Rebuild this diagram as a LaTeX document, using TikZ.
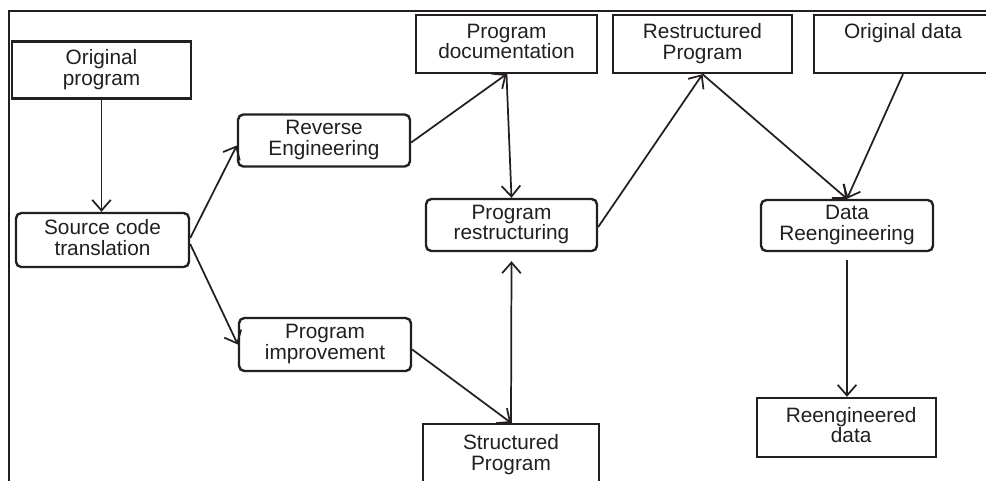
\documentclass[tikz,border=0pt]{standalone}
\usepackage{fontspec}
\setmainfont{Liberation Sans}
\usetikzlibrary{arrows.meta,calc}
\definecolor{ink}{HTML}{231F20}
\begin{document}
\begin{tikzpicture}[x=0.75pt,y=-0.75pt,
  every node/.style={font=\fontsize{15.6}{15.4}\selectfont, text=ink, align=center, inner sep=0pt},
  boxtext/.style={execute at begin node={\rule{0pt}{#1}}, execute at end node={\rule[-4pt]{0pt}{4pt}}},
  boxtext/.default=13pt,
  sqbox/.style={boxtext, draw=ink, line width=1.8pt, rectangle},
  rbox/.style={boxtext, draw=ink, line width=1.8pt, rectangle, rounded corners=4pt},
  arr/.style={draw=ink, line width=1.3pt, -{Straight Barb[length=8pt,width=14pt]}},
  frameline/.style={draw=ink, line width=2.1pt}]
  \clip (0,0) rectangle (986,480);
  \fill[white] (0,0) rectangle (986,480);

  % outer frame (left and top sides only)
  \coordinate (fl) at (9,490);
  \coordinate (fc) at (9,11);
  \coordinate (fr) at (996,11);
  \draw[frameline] (fl) -- (fc) -- (fr);

  % boxes
  \node[sqbox, boxtext=16.5pt, minimum width=134.25pt, minimum height=42.75pt] (orig) at (101.5,70) {Original\\program};
  \node[rbox,  boxtext=14.5pt, minimum width=129.75pt, minimum height=40.5pt]  (src)  at (102.5,240)  {Source code\\translation};
  \node[rbox,  minimum width=129pt,    minimum height=39pt]    (rev)  at (324,140.5)  {Reverse\\Engineering};
  \node[rbox,  minimum width=129pt,    minimum height=39.75pt] (imp)  at (325,344.5)  {Program\\improvement};
  \node[sqbox, minimum width=135.75pt, minimum height=43.5pt]  (doc)  at (506.5,44)   {Program\\documentation};
  \node[rbox,  minimum width=128.25pt, minimum height=39pt]    (res)  at (511.5,225)  {Program\\restructuring};
  \node[sqbox, minimum width=132pt,    minimum height=46.5pt]  (spr)  at (511,455)    {Structured\\Program};
  \node[sqbox, minimum width=134.25pt, minimum height=43.5pt]  (rpr)  at (702.5,44)   {Restructured\\Program};
  \node[sqbox, minimum width=133.5pt,  minimum height=43.5pt]  (odat) at (903,44)     {Original data\\\phantom{documentation}};
  \node[rbox,  minimum width=129pt,    minimum height=38.25pt] (dre)  at (847,225.5)  {Data\\Reengineering};
  \node[sqbox, minimum width=134.25pt, minimum height=44.25pt] (red)  at (846.5,427.5) {\hspace*{7pt}Reengineered\\\hspace*{7pt}data};

  % connectors
  \draw[arr] (orig.south) -- (orig.south |- src.north);
  \draw[arr] ($(src.east)+(0,-2)$) -- ($(rev.west)+(0,5)$);
  \draw[arr] ($(src.east)+(0,4)$) -- (imp.west);
  \draw[arr] ($(rev.east)+(0,2)$) -- (doc.south);
  \draw[arr] (doc.south) -- (res.north);
  \draw[arr] (spr.north) -- ($(res.south)+(0,9)$);
  \draw[arr] ($(imp.east)+(0,5)$) -- (spr.north);
  \draw[arr] ($(res.east)+(0,2)$) -- (rpr.south);
  \draw[arr] (rpr.south) -- (dre.north);
  \draw[arr] (odat.south) -- (dre.north);
  \draw[arr] ($(dre.south)+(0,8)$) -- (dre.south |- red.north);
\end{tikzpicture}
\end{document}
